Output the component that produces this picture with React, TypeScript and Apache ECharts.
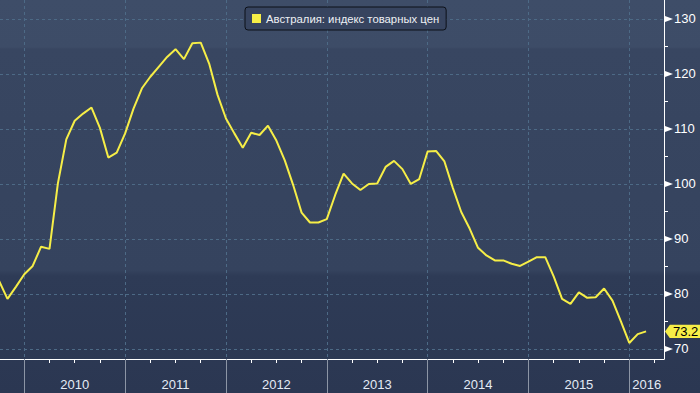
import React, { useEffect, useRef } from 'react';
import * as echarts from 'echarts';

const SERIES_NAME = 'Австралия: индекс товарных цен';
const START_YEAR = 2009;
const START_MONTH = 10; // October 2009, monthly data
const VALUES = [
  82.4, 79.1, 81.3,
  83.6, 85.1, 88.6, 88.2, 100.1, 108.1, 111.5, 112.8, 113.9, 110.2, 104.8, 105.7,
  109.2, 113.7, 117.4, 119.5, 121.3, 123.1, 124.5, 122.7, 125.6, 125.7, 121.9, 116.2,
  111.9, 109.2, 106.6, 109.3, 108.9, 110.6, 107.9, 104.3, 99.8, 94.8, 93.0, 93.0,
  93.6, 98.0, 101.9, 100.1, 98.9, 100.0, 100.1, 103.1, 104.2, 102.7, 100.0, 100.9,
  105.9, 106.0, 104.1, 99.3, 94.9, 91.9, 88.4, 87.0, 86.1, 86.1, 85.5, 85.1,
  85.9, 86.7, 86.7, 83.2, 79.1, 78.2, 80.3, 79.3, 79.4, 81.0, 78.8, 75.0,
  71.1, 72.7, 73.2,
];
const YEARS = [2010, 2011, 2012, 2013, 2014, 2015, 2016];
const Y_TICKS = [70, 80, 90, 100, 110, 120, 130];
const Y_MINOR_TICKS = [75, 85, 95, 105, 115, 125];
const LAST_LABEL = '73.2';

// axis ranges (month index: 0 = Jan 2010)
const X_MIN = -2.89;
const X_MAX = 76.13;
const Y_MIN = 68.18;
const Y_MAX = 133.45;

const FONT = 'Liberation Sans';
const YELLOW = '#f6ee47';
const GRID_COLOR = '#4d6a86';

const svgUrl = (s: string) => 'data:image/svg+xml;charset=utf-8,' + encodeURIComponent(s);
const TAG = svgUrl("<svg xmlns='http://www.w3.org/2000/svg' width='36' height='15' viewBox='0 0 36 15' preserveAspectRatio='none'><polygon points='0,7.5 5,0 36,0 36,15 5,15' fill='" + YELLOW + "'/></svg>");

export default function App() {
  const ref = useRef<HTMLDivElement>(null);
  useEffect(() => {
    if (!ref.current) return;
    const chart = echarts.init(ref.current, undefined, { renderer: 'svg' });
    const startIdx = (START_YEAR - YEARS[0]) * 12 + (START_MONTH - 1);
    const data = VALUES.map((v, i) => [startIdx + i, v]);
    const yearBounds = YEARS.map((y) => (y - YEARS[0]) * 12);
    const quarters: number[] = [];
    YEARS.forEach((y) => {
      [3, 6, 9].forEach((m) => quarters.push((y - YEARS[0]) * 12 + m));
    });
    const labelPos = YEARS.map((y) => {
      const s = (y - YEARS[0]) * 12;
      const e = Math.min(s + 12, X_MAX);
      return (s + e) / 2;
    });
    chart.setOption({
      animation: false,
      textStyle: { fontFamily: FONT },
      grid: { left: 0, right: 36, top: 0, bottom: 34, containLabel: false, outerBoundsMode: 'none' },
      legend: {
        left: 245,
        top: 7,
        padding: [6, 7, 6, 7],
        backgroundColor: '#37445f',
        borderColor: '#0c1018',
        borderWidth: 1,
        borderRadius: 3,
        itemWidth: 9,
        itemHeight: 9,
        itemGap: 5,
        icon: 'rect',
        textStyle: { color: '#eef0f4', fontSize: 11.3, fontFamily: FONT },
        data: [{ name: SERIES_NAME, itemStyle: { color: YELLOW } }],
      },
      xAxis: [
        {
          type: 'value',
          min: X_MIN,
          max: X_MAX,
          position: 'bottom',
          axisLine: { show: true, onZero: false, lineStyle: { color: '#ffffff', width: 1 } },
          axisTick: { show: true, customValues: yearBounds, length: 34, lineStyle: { color: '#8c95a5', width: 1 } },
          axisLabel: {
            show: true,
            customValues: labelPos,
            formatter: (v: number) => String(YEARS[0] + Math.floor(v / 12)),
            color: '#e4ebf6',
            fontSize: 13,
            fontFamily: FONT,
            margin: 19,
          },
          splitLine: { show: true, lineStyle: { color: GRID_COLOR, type: [3, 3], width: 1 } },
        },
        {
          type: 'value',
          min: X_MIN,
          max: X_MAX,
          position: 'bottom',
          axisLine: { show: false, onZero: false },
          axisTick: { show: true, customValues: quarters, length: 4, lineStyle: { color: '#ffffff', width: 1 } },
          axisLabel: { show: false },
          splitLine: { show: false },
        },
      ],
      yAxis: [
        {
          type: 'value',
          min: Y_MIN,
          max: Y_MAX,
          position: 'right',
          axisLine: { show: true, onZero: false, lineStyle: { color: '#ffffff', width: 1 } },
          axisTick: { show: false, customValues: Y_TICKS },
          splitLine: { show: true, lineStyle: { color: GRID_COLOR, type: [3, 3], width: 1 } },
          axisLabel: {
            show: true,
            customValues: Y_TICKS,
            margin: 10,
            color: '#ffffff',
            fontSize: 13,
            fontFamily: FONT,
            padding: [3, 0, 0, 0],
          },
        },
        {
          type: 'value',
          min: Y_MIN,
          max: Y_MAX,
          position: 'right',
          axisLine: { show: false, onZero: false },
          axisTick: { show: false },
          splitLine: { show: false },
          axisLabel: {
            show: true,
            customValues: [Number(LAST_LABEL)],
            margin: 1,
            formatter: () => `{tag|${LAST_LABEL}}`,
            rich: {
              tag: {
                backgroundColor: { image: TAG },
                color: '#000000',
                fontSize: 13,
                fontFamily: FONT,
                padding: [1, 3, 0, 8],
                lineHeight: 14,
              },
            },
          },
        },
      ],
      series: [
        {
          name: SERIES_NAME,
          type: 'line',
          xAxisIndex: 0,
          yAxisIndex: 0,
          data,
          showSymbol: false,
          symbol: 'none',
          clip: true,
          lineStyle: { color: YELLOW, width: 2 },
          itemStyle: { color: YELLOW },
        },
      ],
    });
    // axis tick markers placed through the axis scales
    const ax = chart.convertToPixel({ xAxisIndex: 0 }, X_MAX) as number;
    const graphics: any[] = [];
    Y_TICKS.forEach((v) => {
      const py = chart.convertToPixel({ yAxisIndex: 0 }, v) as number;
      graphics.push({
        type: 'polygon',
        shape: { points: [[ax + 1, py - 3], [ax + 9, py], [ax + 1, py + 3]] },
        style: { fill: '#ffffff' },
        z: 100,
        silent: true,
      });
    });
    Y_MINOR_TICKS.forEach((v) => {
      const py = Math.round(chart.convertToPixel({ yAxisIndex: 0 }, v) as number) + 0.5;
      graphics.push({
        type: 'line',
        shape: { x1: ax, y1: py, x2: ax + 4, y2: py },
        style: { stroke: '#ffffff', lineWidth: 1 },
        z: 100,
        silent: true,
      });
    });
    chart.setOption({ graphic: graphics });
    return () => chart.dispose();
  }, []);
  return (
    <div
      ref={ref}
      style={{
        position: 'fixed',
        left: 0,
        top: 0,
        width: 700,
        height: 393,
        background:
          'linear-gradient(to bottom, #3e4d68 0px, #3d4c67 47px, #384661 49px, #35435e 270px, #2e3b56 276px, #2b3752 393px)',
      }}
    />
  );
}
